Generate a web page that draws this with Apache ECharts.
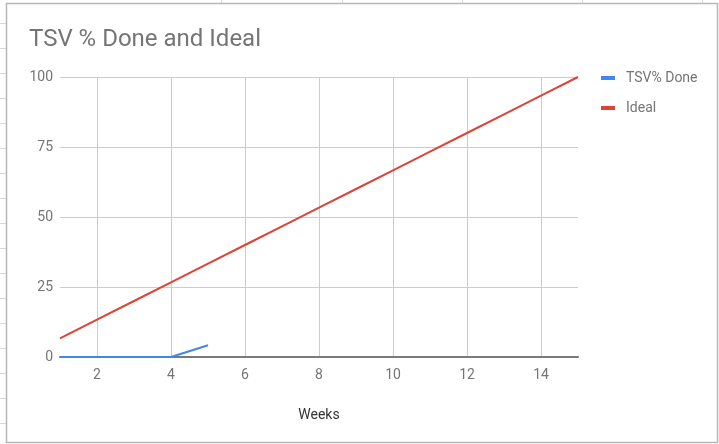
<!DOCTYPE html>
<html>
<head>
<meta charset="utf-8">
<script src="https://cdn.jsdelivr.net/npm/echarts@6/dist/echarts.min.js"></script>
<style>
  html, body { margin: 0; padding: 0; background: #fff; }
  #chart { width: 719px; height: 444px; }
</style>
</head>
<body>
<div id="chart"></div>
<script>
// Weekly progress: actual TSV completion vs. the ideal straight-line plan
const weeks = [1, 2, 3, 4, 5, 6, 7, 8, 9, 10, 11, 12, 13, 14, 15];
const tsvDone = [0, 0, 0, 0, 4.2];
const ideal = [6.67, 13.33, 20, 26.67, 33.33, 40, 46.67, 53.33, 60, 66.67, 73.33, 80, 86.67, 93.33, 100];
const yTicks = [0, 25, 50, 75, 100];

const chart = echarts.init(document.getElementById('chart'), null, { renderer: 'canvas' });

// Surrounding sheet cell borders and the chart frame
const frame = [];
[221, 342, 462, 582, 702].forEach(x => frame.push({
  type: 'line', silent: true,
  shape: { x1: x + 0.5, y1: 0, x2: x + 0.5, y2: 3 },
  style: { stroke: '#d9d9d9', lineWidth: 1 }
}));
for (let y = 23; y < 444; y += 25) {
  frame.push({
    type: 'line', silent: true,
    shape: { x1: 0, y1: y + 0.5, x2: 6, y2: y + 0.5 },
    style: { stroke: '#d9d9d9', lineWidth: 1 }
  });
}
frame.push({
  type: 'rect', silent: true,
  shape: { x: 6.5, y: 3.5, width: 711, height: 439 },
  style: { fill: 'none', stroke: '#b7b7b7', lineWidth: 1.5 }
});

const font = 'Roboto, "Noto Sans", Arial, sans-serif';

chart.setOption({
  backgroundColor: '#ffffff',
  animation: false,
  textStyle: { fontFamily: font },
  title: {
    text: 'TSV % Done and Ideal',
    left: 29, top: 28, padding: 0,
    textStyle: { fontFamily: font, fontSize: 24, fontWeight: 'normal', color: '#757575' }
  },
  legend: {
    orient: 'vertical',
    left: 601, top: 70, padding: 0,
    itemWidth: 14, itemHeight: 4,
    itemGap: 14,
    icon: 'rect',
    textStyle: { fontFamily: font, fontSize: 14, lineHeight: 16, color: '#757575', padding: [0, 0, 0, 6] },
    data: ['TSV% Done', 'Ideal']
  },
  graphic: frame,
  grid: { left: 60, right: 141, top: 77, bottom: 87, containLabel: false },
  xAxis: {
    type: 'value',
    min: weeks[0], max: weeks[weeks.length - 1],
    splitNumber: 7,
    name: 'Weeks',
    nameLocation: 'middle',
    nameGap: 51,
    nameTextStyle: { fontFamily: font, fontSize: 14, color: '#333333' },
    axisLine: { show: true, onZero: false, lineStyle: { color: '#7a7a7a', width: 2 } },
    axisTick: { show: false },
    axisLabel: {
      showMinLabel: false, showMaxLabel: false,
      margin: 11,
      fontFamily: font, fontSize: 14, color: '#757575'
    },
    splitLine: { show: true, showMinLine: false, showMaxLine: false, lineStyle: { color: '#cccccc', width: 1 } }
  },
  yAxis: {
    type: 'value',
    min: yTicks[0], max: yTicks[yTicks.length - 1],
    interval: yTicks[1] - yTicks[0],
    axisLine: { show: false },
    axisTick: { show: false },
    axisLabel: { margin: 7, fontFamily: font, fontSize: 14, color: '#757575' },
    splitLine: { show: true, lineStyle: { color: '#cccccc', width: 1 } }
  },
  series: [
    {
      name: 'TSV% Done',
      type: 'line',
      data: tsvDone.map((v, i) => [weeks[i], v]),
      showSymbol: false,
      symbol: 'none',
      lineStyle: { color: '#4285f4', width: 2 },
      itemStyle: { color: '#4285f4' },
      z: 3
    },
    {
      name: 'Ideal',
      type: 'line',
      data: ideal.map((v, i) => [weeks[i], v]),
      showSymbol: false,
      symbol: 'none',
      lineStyle: { color: '#db4437', width: 2 },
      itemStyle: { color: '#db4437' },
      z: 2
    }
  ]
});
</script>
</body>
</html>
